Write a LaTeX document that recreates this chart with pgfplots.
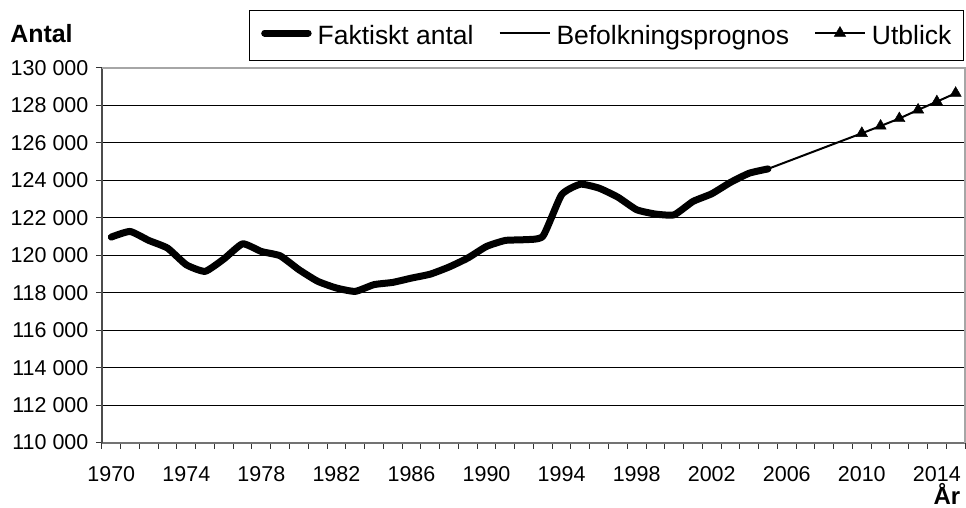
\documentclass[border=0pt]{standalone}
\usepackage{pgfplots}
\pgfplotsset{compat=1.18}
\usepackage{fontspec}
\setmainfont{Liberation Sans}
\pgfplotsset{thicklegend/.style={legend image code/.code={\draw[##1] (3.5pt,11pt) -- (47pt,11pt);}}}
\begin{document}
\begin{tikzpicture}
\path (-102pt,-64pt) rectangle (864pt,443pt);
\begin{axis}[
  at={(0,0)}, anchor=south west,
  width=864pt, height=375pt, scale only axis,
  xmin=1969.5, xmax=2015.5,
  ymin=110000, ymax=130000,
  scaled y ticks=false,
  ytick={110000,112000,114000,116000,118000,120000,122000,124000,126000,128000,130000},
  yticklabels={110 000,112 000,114 000,116 000,118 000,120 000,122 000,124 000,126 000,128 000,130 000},
  xtick={1970,1974,1978,1982,1986,1990,1994,1998,2002,2006,2010,2014},
  xticklabels={1970,1974,1978,1982,1986,1990,1994,1998,2002,2006,2010,2014},
  minor xtick={1969.5,1970.5,...,2015.5},
  major x tick style={draw=none},
  major tick length=6pt, minor tick length=6pt,
  tick align=outside,
  xtick pos=bottom, ytick pos=left,
  tick style={black!80, line width=1pt},
  ymajorgrids,
  major grid style={black, line width=1pt},
  axis x line*=bottom, axis y line*=left,
  x axis line style={draw=black!55, line width=2pt},
  y axis line style={draw=black!70, line width=2pt},
  ticklabel style={font=\fontsize{21.5}{25}\selectfont},
  xticklabel style={yshift=-14pt},
  yticklabel style={xshift=-4pt},
  ylabel={\textbf{Antal}},
  ylabel style={rotate=-90, at={(rel axis cs:-0.07,1.092)}, anchor=center, font=\fontsize{25}{29}\selectfont},
  xlabel={\textbf{År}},
  xlabel style={at={(rel axis cs:0.979,-0.165)}, anchor=base, font=\fontsize{24}{28}\selectfont},
  clip=false,
  legend columns=3,
  legend image code/.code={\draw[mark repeat=2,mark phase=2,#1] plot coordinates {(0pt,11pt) (25pt,11pt) (50pt,11pt)};},
  legend style={at={(rel axis cs:0.9988,1.1547)}, anchor=north east,
    draw=black, line width=1.2pt, font=\fontsize{26.5}{31}\selectfont,
    inner xsep=12pt, inner ysep=11.5pt,
    nodes={inner sep=0pt, anchor=base west, text height=22pt, text depth=5pt},
    /tikz/every odd column/.append style={column sep=6pt},
    /tikz/every even column/.append style={column sep=25pt}},
]
\draw[black!35, line width=2pt] (rel axis cs:0,1) -- (rel axis cs:1,1) -- (rel axis cs:1,0);
\addplot[black, line width=7pt, smooth, tension=0.3, line cap=round, line join=round, thicklegend] coordinates {
(1970,120970) (1971,121270) (1972,120790) (1973,120380) (1974,119490)
(1975,119140) (1976,119800) (1977,120610) (1978,120200) (1979,119970)
(1980,119230) (1981,118610) (1982,118250) (1983,118070) (1984,118430)
(1985,118550) (1986,118780) (1987,118990) (1988,119370) (1989,119850)
(1990,120470) (1991,120790) (1992,120830) (1993,121010) (1994,123230)
(1995,123790) (1996,123580) (1997,123100) (1998,122430) (1999,122200)
(2000,122160) (2001,122870) (2002,123280) (2003,123890) (2004,124380)
(2005,124610)};
\addlegendentry{Faktiskt antal}
\addplot[black, line width=2pt] coordinates {(2005,124610) (2010,126510)};
\addlegendentry{Befolkningsprognos}
\addplot[black, line width=2pt, mark=triangle*, mark size=6.5pt, mark options={line width=0.5pt}] coordinates {
(2010,126510) (2011,126900) (2012,127300) (2013,127760) (2014,128200) (2015,128650)};
\addlegendentry{Utblick}
\end{axis}
\end{tikzpicture}
\end{document}
